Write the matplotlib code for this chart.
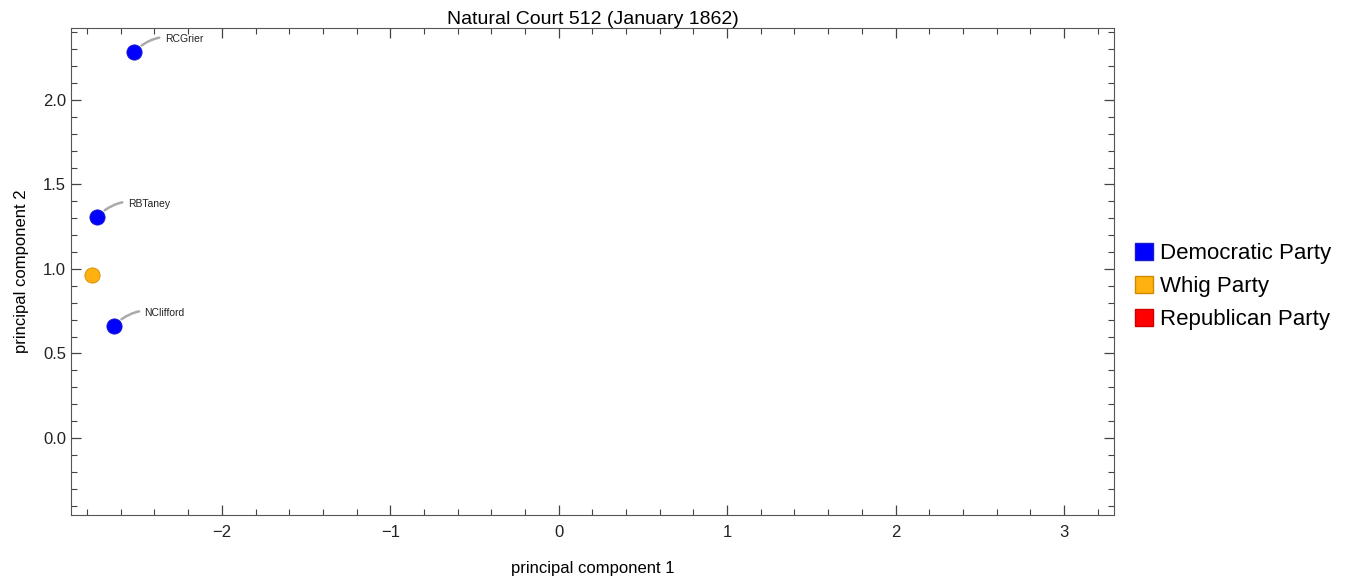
import matplotlib
matplotlib.use('Agg')
import matplotlib.pyplot as plt
from matplotlib.patches import Patch
from matplotlib.ticker import MultipleLocator

plt.rcParams['font.family'] = ['Liberation Sans', 'DejaVu Sans']

# justices: name, pc1, pc2, party
names = ['RCGrier', 'RBTaney', '', 'NClifford']
pc1 = [-2.52, -2.74, -2.77, -2.64]
pc2 = [2.285, 1.31, 0.965, 0.665]
party = ['Democratic Party', 'Democratic Party', 'Whig Party', 'Democratic Party']

parties = ['Democratic Party', 'Whig Party', 'Republican Party']
face = {'Democratic Party': '#0000ff', 'Whig Party': '#ffb10f', 'Republican Party': '#ff0000'}
edge = {'Democratic Party': '#1a1acc', 'Whig Party': '#d08a00', 'Republican Party': '#cc0000'}

fig = plt.figure(figsize=(13.54, 5.82), dpi=100)
ax = fig.add_axes([0.0524, 0.1151, 0.7703, 0.8368])

for x, y, p in zip(pc1, pc2, party):
    ax.scatter(x, y, s=120, color=face[p], edgecolors=edge[p], linewidths=0.6, zorder=3)

for x, y, n in zip(pc1, pc2, names):
    if n:
        ax.annotate(n, xy=(x, y), xytext=(22, 9), textcoords='offset points',
                    fontsize=7.5, va='center', ha='left', color='#222222',
                    arrowprops=dict(arrowstyle='-', color='#aaaaaa', lw=1.8,
                                    shrinkA=2, shrinkB=7,
                                    connectionstyle='arc3,rad=0.3'))

ax.set_xlim(-2.896, 3.297)
ax.set_ylim(-0.456, 2.426)
ax.xaxis.set_major_locator(MultipleLocator(1))
ax.xaxis.set_minor_locator(MultipleLocator(0.2))
ax.yaxis.set_major_locator(MultipleLocator(0.5))
ax.yaxis.set_minor_locator(MultipleLocator(0.1))
ax.yaxis.set_major_formatter(matplotlib.ticker.FormatStrFormatter('%.1f'))
ax.tick_params(which='both', direction='in', top=True, right=True, colors='#444444',
               labelcolor='#222222', labelsize=12)
ax.tick_params(which='major', length=7, width=0.9)
ax.tick_params(which='minor', length=4, width=0.8)
ax.tick_params(axis='x', which='major', pad=7)
for s in ax.spines.values():
    s.set_color('#555555')

ax.set_xlabel('principal component 1', fontsize=12, labelpad=15)
ax.set_ylabel('principal component 2', fontsize=12, labelpad=10)
ax.set_title('Natural Court 512 (January 1862)', fontsize=14, pad=3)

handles = [Patch(facecolor=face[p], edgecolor=edge[p], label=p) for p in parties]
fig.legend(handles=handles, loc='center left', bbox_to_anchor=(0.8315, 0.508),
           frameon=False, fontsize=16, handlelength=0.8, handleheight=0.8,
           handletextpad=0.35, labelspacing=0.53, borderaxespad=0)

fig.savefig('out.png', dpi=100)
